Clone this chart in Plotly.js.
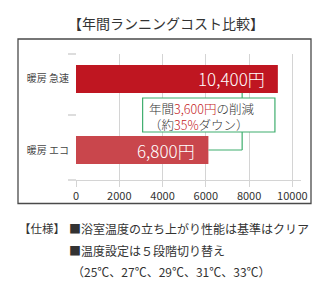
<!DOCTYPE html>
<html><head><meta charset="utf-8">
<script src="https://cdn.plot.ly/plotly-3.0.1.min.js"></script>
<style>html,body{margin:0;padding:0;background:#fff}#c{width:322px;height:290px}</style>
</head><body><div id="c"></div>
<script>
const categories = ['暖房 エコ', '暖房 急速'];
const barValues = [6120, 9330];
const barLabels = ['6,800円', '10,400円'];
const barColors = ['#c9464c', '#bf1621'];
const xTicks = [0, 2000, 4000, 6000, 8000, 10000];
const titleText = '【年間ランニングコスト比較】';
const calloutLine1 = '年間<span style="color:#c41a24">3,600円</span>の削減';
const calloutLine2 = '（約<span style="color:#c41a24">35%</span>ダウン）';
const specLabel = '【仕様】';
const specLines = ['■浴室温度の立ち上がり性能は基準はクリア', '■温度設定は５段階切り替え', '（25℃、27℃、29℃、31℃、33℃）'];

const F = '"Noto Sans CJK JP", "Noto Sans", sans-serif';
const W = 322, H = 290;
const L = 76, R = 21, T = 54, B = 110;
const pw = W - L - R, ph = H - T - B;
const px = x => (x - L) / pw;          // pixel -> paper x
const py = y => (H - B - y) / ph;      // pixel -> paper y

const green = '#3fae6e';
const calloutX = 7680;
const boxX0 = 3080, boxX1 = 9195, boxY0 = 0.2535, boxY1 = 0.7324;
const barW = 0.394;

const trace = {
  type: 'bar', orientation: 'h',
  y: categories, x: barValues,
  width: barW,
  marker: {color: barColors, line: {width: 0}},
  hoverinfo: 'none'
};

const shapes = [
  {type: 'rect', xref: 'paper', yref: 'paper', x0: px(18), x1: px(311), y0: py(203.5), y1: py(39), line: {color: '#4a4a4a', width: 1.3}},
  ...[54, 115, 180].map(y => ({type: 'line', xref: 'paper', yref: 'paper', x0: px(68), x1: 0, y0: py(y), y1: py(y), line: {color: '#bbb', width: 1}})),
  {type: 'rect', xref: 'x', yref: 'y', x0: boxX0, x1: boxX1, y0: boxY0, y1: boxY1, line: {color: green, width: 1.2}, fillcolor: '#fff', layer: 'above'},
  {type: 'line', xref: 'x', yref: 'y', x0: calloutX, x1: calloutX, y0: boxY1, y1: 1 - barW / 2, line: {color: green, width: 1.2}},
  {type: 'line', xref: 'x', yref: 'y', x0: calloutX, x1: calloutX, y0: boxY0, y1: 0, line: {color: green, width: 1.2}},
  {type: 'line', xref: 'x', yref: 'y', x0: barValues[0], x1: calloutX, y0: 0, y1: 0, line: {color: green, width: 1.2}}
];

const annotations = [
  {xref: 'paper', yref: 'paper', x: px(166), y: py(23), text: titleText, showarrow: false, xanchor: 'center', yanchor: 'middle', font: {family: F, size: 14, color: '#333'}},
  ...barValues.map((v, i) => ({xref: 'x', yref: 'y', x: v, y: categories[i], xshift: -11, text: barLabels[i], showarrow: false, xanchor: 'right', yanchor: 'middle', font: {family: F, size: 17, color: '#fff', weight: 300}})),
  {xref: 'x', yref: 'paper', x: boxX0, xshift: 4, y: py(116), text: calloutLine1 + '<br>' + calloutLine2, align: 'left', showarrow: false, xanchor: 'left', yanchor: 'middle', font: {family: F, size: 12.5, color: '#333', weight: 300}},
  {xref: 'paper', yref: 'paper', x: px(17), y: py(228), text: specLabel, showarrow: false, xanchor: 'left', yanchor: 'middle', font: {family: F, size: 11.5, color: '#333'}},
  ...specLines.map((t, i) => ({xref: 'paper', yref: 'paper', x: px(i === 2 ? 70 : 67), y: py([228, 250, 271][i]), text: t, showarrow: false, xanchor: 'left', yanchor: 'middle', font: {family: F, size: 12, color: '#333'}}))
];

const layout = {
  width: W, height: H,
  margin: {l: L, r: R, t: T, b: B, pad: 0},
  paper_bgcolor: '#fff', plot_bgcolor: '#fff',
  showlegend: false,
  xaxis: {
    range: [0, 10400], tickvals: xTicks, ticktext: xTicks.map(String),
    showgrid: true, gridcolor: '#d4d4d4', gridwidth: 1,
    zeroline: false, showline: true, linecolor: '#d4d4d4', linewidth: 1,
    ticks: 'outside', ticklen: 6, tickcolor: '#d4d4d4',
    tickfont: {family: F, size: 11, color: '#333'}, fixedrange: true
  },
  yaxis: {
    type: 'category', categoryorder: 'array', categoryarray: categories,
    range: [-0.4225, 1.352], showgrid: false, zeroline: false, showline: false,
    ticks: '', ticklabelstandoff: 6,
    tickfont: {family: F, size: 10, color: '#444'}, fixedrange: true
  },
  shapes: shapes,
  annotations: annotations
};

Plotly.newPlot('c', [trace], layout, {displayModeBar: false, staticPlot: true});
</script></body></html>
